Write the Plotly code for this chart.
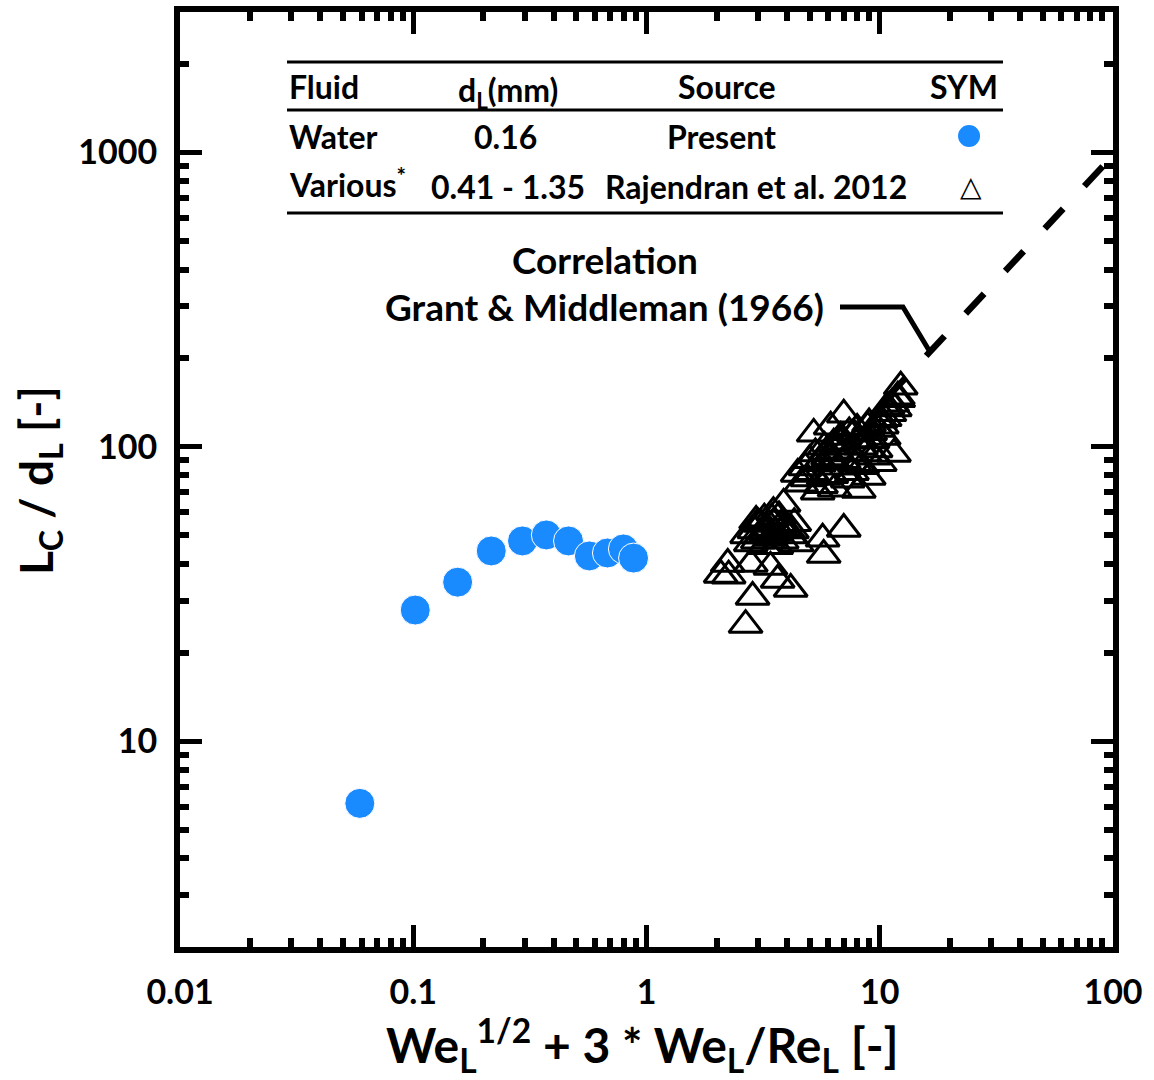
import plotly.graph_objects as go
import numpy as np

# ---------------- data ----------------
present_x = [0.059, 0.102, 0.155, 0.216, 0.294, 0.372, 0.463, 0.569, 0.680, 0.796, 0.880]
present_y = [6.15, 27.9, 34.7, 44.3, 47.9, 50.2, 47.9, 42.6, 43.6, 45.0, 41.9]

raj_x = [2.08, 2.23, 2.25, 2.66, 2.85, 2.80, 3.40, 3.65, 4.15, 3.08, 3.87, 4.03, 5.69, 7.01, 5.75,
         2.70, 2.90, 3.00, 3.10, 3.20, 3.30, 3.40, 3.50, 3.60, 3.70, 3.80, 3.90, 4.10, 4.30, 2.80,
         3.20, 3.60, 4.40, 3.00, 3.50, 2.95, 3.25, 3.45, 3.75, 4.20,
         5.42, 4.45, 5.21, 7.01, 6.35, 7.73, 8.13, 8.97, 9.42, 11.5, 10.1, 10.8, 11.95, 12.3, 8.88,
         6.60, 5.75, 7.29, 8.88, 10.4, 6.16,
         4.60, 4.80, 5.00, 5.30, 5.50, 5.80, 6.00, 6.20, 6.50, 6.80, 7.00, 7.20, 7.50, 7.80, 8.00,
         8.30, 8.60, 9.00, 9.30, 9.80, 10.5, 11.0, 5.60, 6.40, 7.60, 8.40, 9.60, 10.0, 11.3, 12.0,
         5.10, 5.90, 6.70, 7.40, 8.20, 9.10, 10.2, 11.6, 4.90, 6.30]
raj_y = [36.7, 40.0, 36.5, 24.8, 30.9, 40.0, 39.1, 35.3, 32.9, 54.7, 64.0, 52.2, 48.7, 52.6, 42.9,
         50.0, 52.0, 55.0, 50.0, 57.0, 53.0, 49.0, 55.0, 51.0, 58.0, 48.0, 53.0, 50.0, 55.0, 47.0,
         46.0, 46.0, 47.0, 48.0, 60.0, 56.0, 51.0, 57.0, 54.0, 52.0,
         70.4, 80.9, 110.7, 128.5, 102.4, 110.7, 71.4, 79.0, 92.5, 94.6, 123.6, 137.0, 148.0, 160.0, 105.6,
         85.5, 79.0, 77.3, 117.0, 108.0, 117.0,
         75.0, 85.0, 90.0, 95.0, 88.0, 100.0, 92.0, 80.0, 97.0, 108.0, 90.0, 100.0, 95.0, 88.0, 115.0,
         100.0, 95.0, 120.0, 105.0, 115.0, 125.0, 130.0, 74.0, 72.0, 82.0, 86.0, 98.0, 88.0, 140.0, 145.0,
         82.0, 96.0, 104.0, 112.0, 106.0, 112.0, 118.0, 135.0, 78.0, 90.0]

# Grant & Middleman (1966) correlation: Lc/dL = 19.5 * X^0.85
corr_coef = 19.5
corr_exp = 0.85
corr_x = list(np.logspace(np.log10(10.7), 2, 60))
corr_y = [corr_coef * v ** corr_exp for v in corr_x]

x_tickvals = [0.01, 0.1, 1, 10, 100]
x_ticktext = ["0.01", "0.1", "1", "10", "100"]
y_tickvals = [10, 100, 1000]
y_ticktext = ["10", "100", "1000"]

BLUE = "#1a8aff"
FONT = "Lato"

fig = go.Figure()
fig.add_trace(go.Scatter(x=corr_x, y=corr_y, mode="lines",
                         line=dict(color="black", width=6.5, dash="27px,31px"),
                         showlegend=False, hoverinfo="skip"))
fig.add_trace(go.Scatter(x=raj_x, y=raj_y, mode="markers",
                         marker=dict(symbol="triangle-up-open", size=29,
                                     color="black", line=dict(color="black", width=3)),
                         showlegend=False))
fig.add_trace(go.Scatter(x=present_x, y=present_y, mode="markers",
                         marker=dict(symbol="circle", size=30, color=BLUE,
                                     line=dict(color="white", width=1)),
                         showlegend=False))

minor_x = [d * 10.0 ** k for k in range(-2, 2) for d in range(2, 10)]
minor_y = [d * 10.0 ** k for k in range(0, 4) for d in range(2, 10) if 2 <= d * 10.0 ** k <= 3000]

axis_common = dict(showgrid=False, zeroline=False, showline=True, linecolor="black",
                   linewidth=6, mirror="allticks", ticks="inside", ticklen=22,
                   tickwidth=5, tickcolor="black", automargin=False,
                   tickfont=dict(family=FONT, size=34, color="black", weight="bold"))

fig.update_xaxes(type="log", range=[-2, 2], tickmode="array", tickvals=x_tickvals,
                 ticktext=x_ticktext,
                 minor=dict(tickmode="array", tickvals=minor_x, ticks="inside",
                            ticklen=9, tickwidth=6, tickcolor="black"),
                 ticklabelstandoff=10, **axis_common)
fig.update_yaxes(type="log", range=[np.log10(2), np.log10(3000)], tickmode="array",
                 tickvals=y_tickvals, ticktext=y_ticktext,
                 minor=dict(tickmode="array", tickvals=minor_y, ticks="inside",
                            ticklen=9, tickwidth=6, tickcolor="black"),
                 ticklabelstandoff=10, **axis_common)

shapes = []
# table rules
for yy in [0.9465, 0.8952, 0.7850]:
    shapes.append(dict(type="line", xref="paper", yref="paper", x0=0.1147, x1=0.8821,
                       y0=yy, y1=yy, line=dict(color="black", width=3)))
# leader line for the correlation label
shapes.append(dict(type="path", xref="paper", yref="paper",
                   path="M0.7074,0.6845 L0.7749,0.6845 L0.8039,0.6364",
                   line=dict(color="black", width=5)))
# legend circle symbol
shapes.append(dict(type="circle", xref="paper", yref="paper", xsizemode="pixel",
                   ysizemode="pixel", xanchor=0.8457, yanchor=0.8674,
                   x0=-11, x1=11, y0=-11, y1=11, fillcolor=BLUE, line=dict(width=0)))

tf = dict(family=FONT, size=32, color="black", weight="bold")
cf = dict(family=FONT, size=37, color="black", weight="bold")
ann = []
def A(text, x, y, xanchor="center", font=tf, **kw):
    ann.append(dict(text=text, x=x, y=y, xref="paper", yref="paper", xanchor=xanchor,
                    yanchor="middle", showarrow=False, font=font, **kw))

ROW0, ROW1, ROW2 = 0.9200, 0.8672, 0.8130
A("Fluid", 0.1147, ROW0, "left")
A("d<sub>L</sub>(mm)", 0.3516, ROW0 - 0.006)
A("Source", 0.5863, ROW0)
A("SYM", 0.8789, ROW0, "right")
A("Water", 0.1147, ROW1, "left")
A("0.16", 0.3494, ROW1)
A("Present", 0.5809, ROW1)
A("Various<sup>*</sup>", 0.1147, ROW2 + 0.004, "left")
A("0.41 - 1.35", 0.3516, ROW2)
A("Rajendran et al. 2012", 0.6174, ROW2)
A("△", 0.8478, ROW2, font=dict(family="DejaVu Sans", size=28, color="black"))
A("Correlation", 0.4555, 0.7350, font=cf)
A("Grant &amp; Middleman (1966)", 0.4555, 0.6850, font=cf)

# axis titles
A("We<sub>L</sub><sup>1/2</sup> + 3 * We<sub>L</sub>/Re<sub>L</sub> [-]", 0.4960, -0.105,
  font=dict(family=FONT, size=48, color="black", weight="bold"))
A("L<sub>C</sub> / d<sub>L</sub> [-]", -0.151, 0.4984,
  font=dict(family=FONT, size=46, color="black", weight="bold"), textangle=-90)

fig.update_layout(width=1154, height=1080, margin=dict(l=180, r=41, t=12, b=133),
                  paper_bgcolor="white", plot_bgcolor="white",
                  shapes=shapes, annotations=ann, showlegend=False)

fig.write_html("out.html")
